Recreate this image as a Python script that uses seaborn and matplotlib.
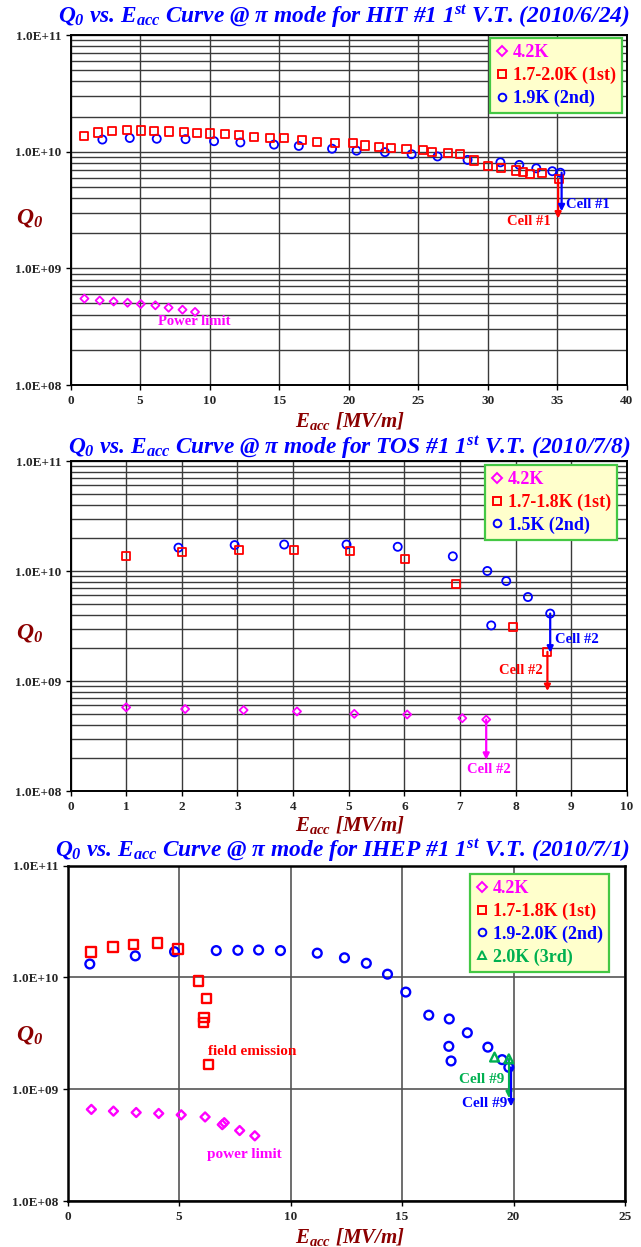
import numpy as np
import matplotlib
matplotlib.use("Agg")
import matplotlib.pyplot as plt
import seaborn as sns
from matplotlib.lines import Line2D
from matplotlib.ticker import (FixedLocator, FuncFormatter, LogLocator,
                               MultipleLocator, NullFormatter)

# ---------------------------------------------------------------- data
# HIT #1 1st vertical test (2010/6/24)
hit_e_42 = [1.0, 2.1, 3.1, 4.1, 5.05, 6.1, 7.05, 8.05, 8.95]
hit_q_42 = [5.5e8, 5.3e8, 5.2e8, 5.07e8, 4.94e8, 4.82e8, 4.6e8, 4.42e8, 4.23e8]
hit_e_1st = [1.0, 2.0, 3.0, 4.07, 5.05, 6.0, 7.05, 8.14, 9.12, 10.05, 11.12,
             12.13, 13.16, 14.36, 15.32, 16.62, 17.69, 19.0, 20.29, 21.2,
             22.15, 23.03, 24.15, 25.35, 26.0, 27.15, 28.0, 29.0, 30.0, 30.93,
             32.0, 32.5, 33.0, 33.86, 35.08]
hit_q_1st = [1.37e10, 1.46e10, 1.51e10, 1.53e10, 1.52e10, 1.50e10, 1.49e10,
             1.47e10, 1.45e10, 1.43e10, 1.41e10, 1.40e10, 1.34e10, 1.32e10,
             1.30e10, 1.26e10, 1.22e10, 1.19e10, 1.18e10, 1.13e10, 1.10e10,
             1.08e10, 1.05e10, 1.03e10, 1.0e10, 9.7e9, 9.5e9, 8.4e9, 7.5e9,
             7.3e9, 6.9e9, 6.7e9, 6.4e9, 6.6e9, 5.8e9]
hit_e_2nd = [2.29, 4.26, 6.2, 8.27, 10.32, 12.21, 14.63, 16.41, 18.8, 20.56,
             22.6, 24.52, 26.38, 28.54, 30.9, 32.26, 33.48, 34.63, 35.21]
hit_q_2nd = [1.27e10, 1.31e10, 1.29e10, 1.28e10, 1.23e10, 1.20e10, 1.15e10,
             1.12e10, 1.06e10, 1.02e10, 9.9e9, 9.5e9, 9.1e9, 8.5e9, 8.1e9,
             7.7e9, 7.2e9, 6.8e9, 6.6e9]

# TOS #1 1st vertical test (2010/7/8)
tos_e_42 = [1.0, 2.06, 3.11, 4.07, 5.1, 6.05, 7.04, 7.47]
tos_q_42 = [5.76e8, 5.56e8, 5.44e8, 5.29e8, 5.03e8, 4.96e8, 4.59e8, 4.46e8]
tos_e_1st = [1.0, 2.0, 3.03, 4.01, 5.02, 6.01, 6.92, 7.95, 8.57]
tos_q_1st = [1.36e10, 1.49e10, 1.55e10, 1.55e10, 1.53e10, 1.29e10, 7.6e9,
             3.1e9, 1.84e9]
tos_e_2nd = [1.94, 2.95, 3.84, 4.96, 5.88, 6.87, 7.49, 7.83, 8.22, 7.56, 8.62]
tos_q_2nd = [1.63e10, 1.72e10, 1.74e10, 1.74e10, 1.66e10, 1.36e10, 1.0e10,
             8.1e9, 5.8e9, 3.2e9, 4.1e9]

# IHEP #1 1st vertical test (2010/7/1)
ihep_e_42 = [1.07, 2.06, 3.08, 4.09, 5.10, 6.17, 6.94, 7.03, 7.72, 8.4]
ihep_q_42 = [6.6e8, 6.37e8, 6.19e8, 6.07e8, 5.9e8, 5.65e8, 4.82e8, 5.02e8,
             4.27e8, 3.83e8]
ihep_e_1st = [1.05, 2.04, 2.97, 4.04, 4.95, 5.86, 6.22, 6.12, 6.1, 6.31]
ihep_q_1st = [1.69e10, 1.87e10, 1.96e10, 2.03e10, 1.8e10, 9.3e9, 6.44e9,
              4.4e9, 3.95e9, 1.66e9]
ihep_e_2nd = [1.0, 3.04, 4.8, 6.67, 7.64, 8.57, 9.55, 11.2, 12.42, 13.4,
              14.35, 15.17, 16.2, 17.12, 17.93, 17.1, 18.85, 17.2, 19.49, 19.79]
ihep_q_2nd = [1.32e10, 1.56e10, 1.7e10, 1.74e10, 1.75e10, 1.76e10, 1.74e10,
              1.65e10, 1.5e10, 1.34e10, 1.07e10, 7.4e9, 4.6e9, 4.25e9, 3.2e9,
              2.42e9, 2.38e9, 1.79e9, 1.84e9, 1.57e9]
ihep_e_3rd = [19.15, 19.79]
ihep_q_3rd = [1.94e9, 1.87e9]

titles = [
    r"$Q_0$ vs. $E_{acc}$ Curve @ π mode for HIT #1 $1^{st}$ V.T. (2010/6/24)",
    r"$Q_0$ vs. $E_{acc}$ Curve @ π mode for TOS #1 $1^{st}$ V.T. (2010/7/8)",
    r"$Q_0$ vs. $E_{acc}$ Curve @ π mode for IHEP #1 $1^{st}$ V.T. (2010/7/1)",
]
hit_labels = ["4.2K", "1.7-2.0K (1st)", "1.9K (2nd)"]
tos_labels = ["4.2K", "1.7-1.8K (1st)", "1.5K (2nd)"]
ihep_labels = ["4.2K", "1.7-1.8K (1st)", "1.9-2.0K (2nd)", "2.0K (3rd)"]
x_limits = [40, 10, 25]
x_steps = [5, 1, 5]
y_ticks = [1e8, 1e9, 1e10, 1e11]

# drop-off arrows: (x, q_start, q_end, colour key)
hit_arrows = [(35.05, 5.8e9, 2.67e9, "red"), (35.3, 6.6e9, 3.08e9, "blue")]
tos_arrows = [(8.62, 4.1e9, 1.81e9, "blue"), (8.57, 1.84e9, 8.1e8, "red"),
              (7.47, 4.46e8, 1.92e8, "magenta")]
ihep_arrows = [(19.8, 1.87e9, 8.3e8, "green"), (19.89, 1.57e9, 7.0e8, "blue")]

# notes: (x, q, text, colour key, horizontal alignment)
hit_notes = [(35.6, 3.5e9, "Cell #1", "blue", "left"),
             (34.5, 2.5e9, "Cell #1", "red", "right"),
             (8.9, 3.5e8, "Power limit", "magenta", "center")]
tos_notes = [(8.7, 2.4e9, "Cell #2", "blue", "left"),
             (8.1, 1.25e9, "Cell #2", "red", "center"),
             (7.52, 1.58e8, "Cell #2", "magenta", "center")]
ihep_notes = [(6.3, 2.18e9, "field emission", "red", "left"),
              (6.26, 2.6e8, "power limit", "magenta", "left"),
              (19.6, 1.22e9, "Cell #9", "green", "right"),
              (19.7, 7.5e8, "Cell #9", "blue", "right")]

# ---------------------------------------------------------------- style
sns.set_style("ticks")
plt.rcParams.update({
    "font.family": ["Liberation Serif", "DejaVu Serif"],
    "font.weight": "bold",
    "mathtext.fontset": "custom",
    "mathtext.rm": "Liberation Serif:italic:bold",
    "mathtext.it": "Liberation Serif:italic:bold",
    "mathtext.bf": "Liberation Serif:italic:bold",
    "axes.edgecolor": "black",
})

COL = {"magenta": "#FF00FF", "red": "#FF0000", "blue": "#0000FF",
       "green": "#00B050"}
TITLE_COL = "#0000FF"
LABEL_COL = "#8B0000"

W, H = 641, 1247
fig = plt.figure(figsize=(W / 100, H / 100), dpi=100)
fig.patch.set_facecolor("white")


def axes_px(left, top, right, bottom):
    return fig.add_axes([left / W, 1 - bottom / H, (right - left) / W,
                         (bottom - top) / H])


def scatter(ax, xs, ys, marker, colour, size, lw):
    sns.scatterplot(x=xs, y=ys, ax=ax, marker=marker, s=size,
                    color=COL[colour], facecolor="none",
                    edgecolor=COL[colour], linewidth=lw, legend=False,
                    zorder=3)


def style_axes(ax, xmax, step, minor_grid, grid_col, grid_lw, spine_lw):
    ax.set_xlim(0, xmax)
    ax.set_yscale("log")
    ax.set_ylim(1e8, 1e11)
    ax.xaxis.set_major_locator(MultipleLocator(step))
    ax.yaxis.set_major_locator(FixedLocator(y_ticks))
    ax.yaxis.set_major_formatter(FuncFormatter(lambda v, p: f"{v:.1E}"))
    ax.yaxis.set_minor_locator(LogLocator(base=10, subs=np.arange(2, 10)))
    ax.yaxis.set_minor_formatter(NullFormatter())
    ax.set_axisbelow(True)
    ax.grid(True, which="major", color=grid_col, lw=grid_lw)
    if minor_grid:
        ax.grid(True, which="minor", axis="y", color=grid_col, lw=grid_lw)
    ax.tick_params(axis="both", which="major", direction="out", length=3.5,
                   width=1, labelsize=9.5, color="black")
    ax.tick_params(axis="y", which="major", pad=3)
    ax.tick_params(axis="x", which="major", pad=3.5)
    ax.tick_params(axis="y", which="minor", length=0)
    for lab in ax.get_xticklabels() + ax.get_yticklabels():
        lab.set_fontweight("bold")
    for sp in ax.spines.values():
        sp.set_visible(True)
        sp.set_linewidth(spine_lw)
        sp.set_color("black")
    ax.set_xlabel("")
    ax.set_ylabel("")


def add_legend(ax, labels, markers, colours, anchor, fontsize):
    handles = [Line2D([], [], ls="none", marker=m, mfc="none",
                      mec=COL[c], mew=1.4, ms=5.5)
               for m, c in zip(markers, colours)]
    leg = ax.legend(handles, labels, loc="upper right", bbox_to_anchor=anchor,
                    frameon=True, fancybox=False, framealpha=1,
                    facecolor="#FFFFCC", edgecolor="#44C844",
                    prop={"family": "Liberation Serif", "weight": "bold",
                          "size": fontsize},
                    handlelength=0.6, handletextpad=0.3, labelspacing=0.3,
                    borderpad=0.35, borderaxespad=0)
    leg.get_frame().set_linewidth(1.6)
    leg.set_zorder(5)
    for t, c in zip(leg.get_texts(), colours):
        t.set_color(COL[c])


def add_arrows(ax, arrows):
    for x, q0, q1, c in arrows:
        ax.annotate("", xy=(x, q1), xytext=(x, q0),
                    arrowprops=dict(arrowstyle="-|>", color=COL[c], lw=1.6,
                                    mutation_scale=9, shrinkA=0, shrinkB=0),
                    zorder=4)


def add_notes(ax, notes, size):
    for x, q, text, c, ha in notes:
        ax.text(x, q, text, color=COL[c], fontsize=size, fontweight="bold",
                ha=ha, va="center", zorder=4)


def frame_labels(title, title_y, q_y, e_y):
    fig.text(630 / W, 1 - title_y / H, title, ha="right",
             va="center", color=TITLE_COL, fontsize=16.8, fontweight="bold",
             fontstyle="italic")
    fig.text(30 / W, 1 - q_y / H, r"$Q_0$", ha="center", va="center",
             color=LABEL_COL, fontsize=17)
    fig.text(350 / W, 1 - e_y / H, r"$E_{acc}$ [MV/m]", ha="center",
             va="center", color=LABEL_COL, fontsize=15, fontweight="bold",
             fontstyle="italic")


# ---------------------------------------------------------------- HIT #1
ax1 = axes_px(70.5, 35, 627, 385)
scatter(ax1, hit_e_2nd, hit_q_2nd, "o", "blue", 34, 1.3)
scatter(ax1, hit_e_1st, hit_q_1st, "s", "red", 34, 1.3)
scatter(ax1, hit_e_42, hit_q_42, "D", "magenta", 17, 1.3)
style_axes(ax1, x_limits[0], x_steps[0], True, "#3a3a3a", 1.0, 1.4)
add_arrows(ax1, hit_arrows)
add_notes(ax1, hit_notes, 10.5)
add_legend(ax1, hit_labels, ["D", "s", "o"], ["magenta", "red", "blue"],
           (0.991, 0.991), 13)
frame_labels(titles[0], 17, 218, 421.5)

# ---------------------------------------------------------------- TOS #1
ax2 = axes_px(70.5, 461, 627, 791)
scatter(ax2, tos_e_2nd, tos_q_2nd, "o", "blue", 34, 1.3)
scatter(ax2, tos_e_1st, tos_q_1st, "s", "red", 34, 1.3)
scatter(ax2, tos_e_42, tos_q_42, "D", "magenta", 17, 1.3)
style_axes(ax2, x_limits[1], x_steps[1], True, "#3a3a3a", 1.0, 1.4)
add_arrows(ax2, tos_arrows)
add_notes(ax2, tos_notes, 10.5)
add_legend(ax2, tos_labels, ["D", "s", "o"], ["magenta", "red", "blue"],
           (0.982, 0.988), 13)
frame_labels(titles[1], 448, 633, 825)

# ---------------------------------------------------------------- IHEP #1
ax3 = axes_px(67.5, 865.7, 625, 1201)
scatter(ax3, ihep_e_2nd, ihep_q_2nd, "o", "blue", 40, 1.7)
scatter(ax3, ihep_e_1st, ihep_q_1st, "s", "red", 45, 1.7)
scatter(ax3, ihep_e_42, ihep_q_42, "D", "magenta", 21, 1.7)
scatter(ax3, ihep_e_3rd, ihep_q_3rd, "^", "green", 40, 1.7)
style_axes(ax3, x_limits[2], x_steps[2], False, "#555555", 1.2, 1.8)
add_arrows(ax3, ihep_arrows)
add_notes(ax3, ihep_notes, 11)
add_legend(ax3, ihep_labels, ["D", "s", "o", "^"],
           ["magenta", "red", "blue", "green"], (0.971, 0.975), 13)
frame_labels(titles[2], 850.5, 1035, 1237.5)

fig.savefig("out.png", dpi=100, facecolor="white")
